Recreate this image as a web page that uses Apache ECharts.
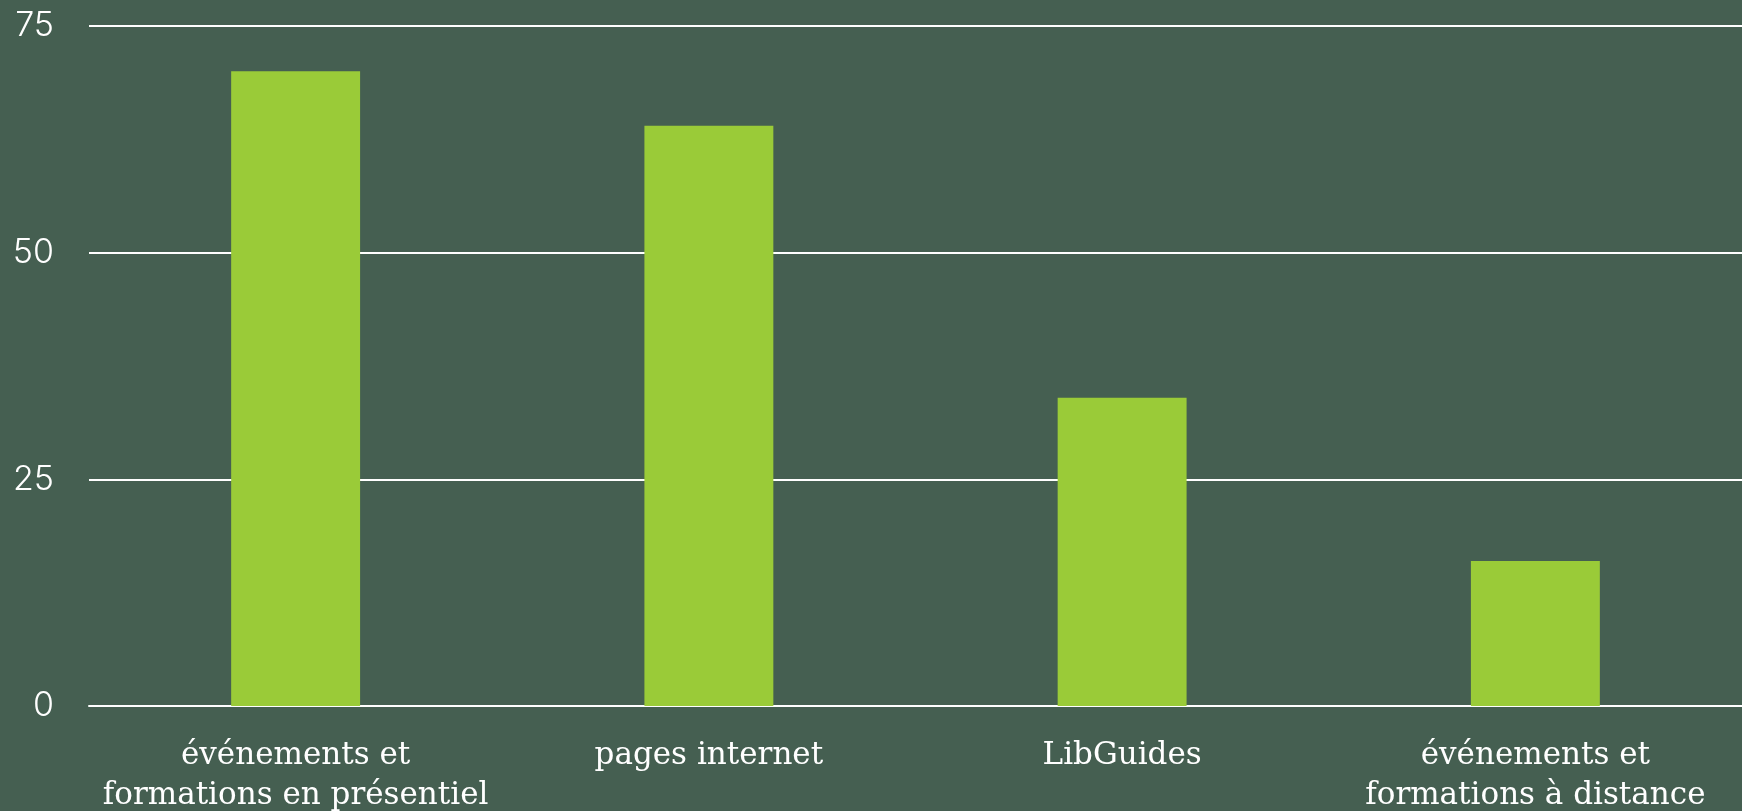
<!DOCTYPE html>
<html>
<head>
<meta charset="utf-8">
<script src="https://cdn.jsdelivr.net/npm/echarts@6/dist/echarts.min.js"></script>
<style>
html, body { margin: 0; padding: 0; background: #455f51; }
#chart { width: 1742px; height: 811px; }
</style>
</head>
<body>
<div id="chart"></div>
<script>
var categories = ['événements et\nformations en présentiel', 'pages internet', 'LibGuides', 'événements et\nformations à distance'];
var values = [70, 64, 34, 16];
var yTicks = [0, 25, 50, 75];

var myChart = echarts.init(document.getElementById('chart'));

var option = {
    backgroundColor: '#455f51',
    animation: false,
    grid: {
        left: 89,
        right: 0,
        top: 26,
        bottom: 105,
        containLabel: false,
        outerBoundsMode: 'none'
    },
    xAxis: {
        type: 'category',
        data: categories,
        axisLine: { show: true, lineStyle: { color: '#ffffff', width: 2 } },
        axisTick: { show: false },
        axisLabel: {
            interval: 0,
            color: '#ffffff',
            fontFamily: 'DejaVu Serif',
            fontSize: 31,
            lineHeight: 40,
            margin: 30
        }
    },
    yAxis: {
        type: 'value',
        min: yTicks[0],
        max: yTicks[yTicks.length - 1],
        interval: 25,
        axisLine: { show: false },
        axisTick: { show: false },
        splitLine: { lineStyle: { color: '#ffffff', width: 2 } },
        axisLabel: {
            color: '#ffffff',
            fontFamily: 'Inter',
            fontWeight: 300,
            fontSize: 34,
            margin: 35
        }
    },
    series: [{
        type: 'bar',
        data: values,
        barWidth: '31.2%',
        itemStyle: { color: '#9acb38' }
    }]
};

myChart.setOption(option);
</script>
</body>
</html>
